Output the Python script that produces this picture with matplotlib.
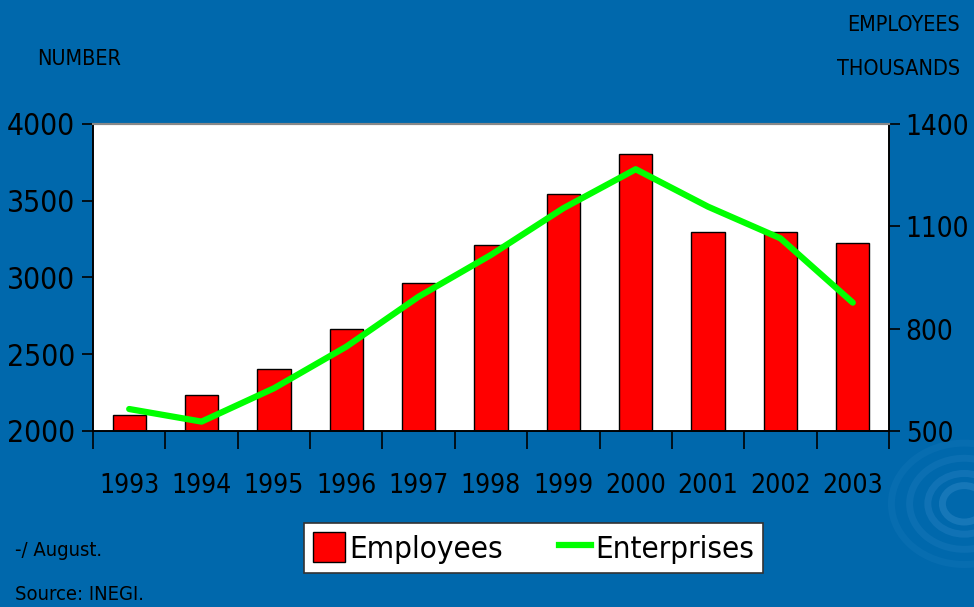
#!/usr/bin/env python3
"""
Maquiladora industry: employees (bars, thousands) and enterprises (line).
"""

import matplotlib
matplotlib.use('Agg')
import matplotlib.pyplot as plt
import matplotlib.patches as patches
from matplotlib.lines import Line2D

years = ['1993', '1994', '1995', '1996', '1997', '1998',
         '1999', '2000', '2001', '2002', '2003']
employees = [547, 605, 683, 798, 935, 1044, 1194, 1312, 1083, 1083, 1050]
enterprises = [2143, 2061, 2278, 2549, 2875, 3147, 3451, 3705, 3461, 3255, 2836]
left_ticks = [2000, 2500, 3000, 3500, 4000]
right_ticks = [500, 800, 1100, 1400]

BG = '#0068AC'
FONT = 'DejaVu Sans'
STRETCH = 'condensed'

fig = plt.figure(figsize=(9.74, 6.07), dpi=100)
fig.patch.set_facecolor(BG)

# faint swirl decoration, bottom right
for r, a in [(0.03, 0.30), (0.05, 0.22), (0.075, 0.15), (0.1, 0.10)]:
    fig.patches.append(patches.Ellipse((0.99, 0.17), r * 2 * 607 / 974 * 1.2, r * 2,
                                       transform=fig.transFigure, fill=False,
                                       edgecolor='#4A9AD6', lw=5, alpha=a))

ax = fig.add_axes([0.0955, 0.29, 0.8172, 0.5058])
ax2 = ax.twinx()

x = list(range(len(years)))
ax2.bar(x, employees, width=0.46, color='#FF0000', edgecolor='black', linewidth=1,
        zorder=2)
ax.plot(x, enterprises, color='#00FF00', linewidth=4.5, solid_capstyle='round',
        zorder=3)
# line above bars
ax.set_zorder(ax2.get_zorder() + 1)
ax.patch.set_visible(False)
ax2.patch.set_visible(True)
ax2.patch.set_facecolor('white')

ax.set_xlim(-0.5, len(years) - 0.5)
ax.set_ylim(2000, 4000)
ax2.set_ylim(500, 1400)
ax.set_yticks(left_ticks)
ax2.set_yticks(right_ticks)

ax.set_xticks(x)
ax.set_xticklabels(years, family=FONT, stretch=STRETCH, fontsize=19)
ax.set_xticks([i - 0.5 for i in range(len(years) + 1)], minor=True)
ax.tick_params(axis='x', which='major', length=0, pad=30)
ax.tick_params(axis='x', which='minor', length=13, width=1.2, color='black')
ax.tick_params(axis='y', length=8, width=1.2, color='black', pad=5)
ax2.tick_params(axis='y', length=8, width=1.2, color='black', pad=4)
for lbl in ax.get_yticklabels():
    lbl.set_family(FONT)
    lbl.set_stretch(STRETCH)
    lbl.set_fontsize(21.5)
for lbl in ax2.get_yticklabels():
    lbl.set_family(FONT)
    lbl.set_stretch(STRETCH)
    lbl.set_fontsize(20)

for a in (ax, ax2):
    for side in ('left', 'right', 'bottom'):
        a.spines[side].set_color('black')
        a.spines[side].set_linewidth(1.2)
    a.spines['top'].set_color('#888888')
    a.spines['top'].set_linewidth(1.5)

txt = dict(family=FONT, stretch=STRETCH, va='center')
fig.text(0.038, 0.903, 'NUMBER', fontsize=15.5, ha='left', **txt)
fig.text(0.986, 0.958, 'EMPLOYEES', fontsize=15.5, ha='right', **txt)
fig.text(0.986, 0.886, 'THOUSANDS', fontsize=15.5, ha='right', **txt)
fig.text(0.015, 0.093, '-/ August.', fontsize=14.5, ha='left', **txt)
fig.text(0.015, 0.020, 'Source: INEGI.', fontsize=14.5, ha='left', **txt)

handles = [patches.Patch(facecolor='#FF0000', edgecolor='black', linewidth=1),
           Line2D([0], [0], color='#00FF00', linewidth=4.5)]
leg = fig.legend(handles, ['Employees', 'Enterprises'], loc='center',
                 bbox_to_anchor=(0.548, 0.097), ncol=2, frameon=True,
                 fancybox=False, framealpha=1,
                 prop={'family': FONT, 'stretch': STRETCH, 'size': 22.5},
                 handlelength=1.0, handleheight=1.1, handletextpad=0.15,
                 columnspacing=1.8, borderpad=0.3)
leg.get_frame().set_facecolor('white')
leg.get_frame().set_edgecolor('#333333')
leg.get_frame().set_linewidth(1.2)

plt.savefig('out.png', dpi=100, facecolor=BG)
plt.close()
